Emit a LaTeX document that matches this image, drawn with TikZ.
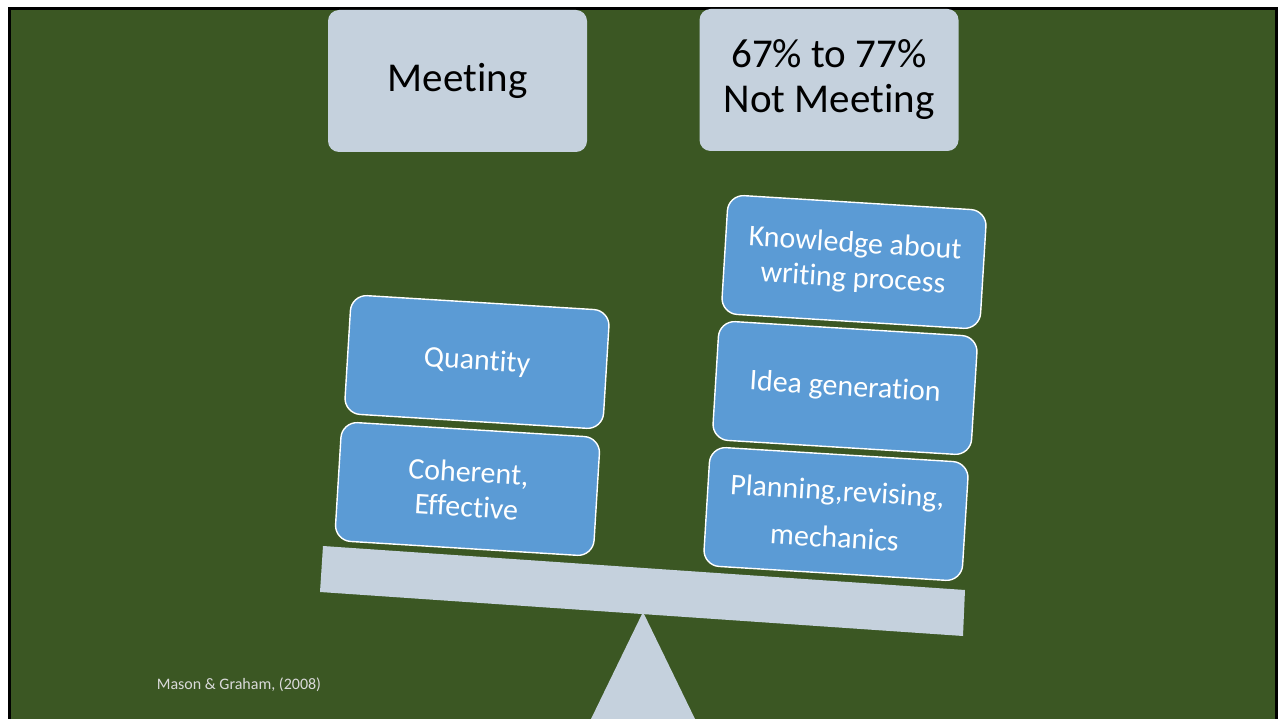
\documentclass[tikz,border=0pt]{standalone}
\usepackage{fontspec}
\setmainfont{Carlito}[RawFeature=-liga]
\definecolor{slidegreen}{HTML}{3B5723}
\definecolor{boxblue}{HTML}{5B9BD5}
\definecolor{beamgray}{HTML}{C5D1DD}
\definecolor{citegray}{HTML}{DADADA}
\tikzset{
  headbox/.style={fill=beamgray, rounded corners=11pt, minimum width=259pt,
    minimum height=142pt, inner sep=0pt, align=center,
    font=\fontsize{41}{45}\selectfont, text=black},
  weightbox/.style={draw=white, line width=1.4pt, fill=boxblue,
    rounded corners=16pt, minimum width=259pt, minimum height=119pt,
    inner sep=0pt, align=center, rotate=-3.5, text=white,
    font=\fontsize{30}{35}\selectfont},
}
\begin{document}
\begin{tikzpicture}[x=1pt,y=-1pt]
  \useasboundingbox (0,0) rectangle (1278,719);
  % page, frame and slide background
  \fill[white] (0,0) rectangle (1278,719);
  \fill[black] (8,7) rectangle (1278,719);
  \fill[slidegreen] (11,10) rectangle (1275,719);

  % headings
  \node[headbox] (meeting) at (457.5,81) {Meeting};
  \node[headbox] (notmeeting) at (829,80) {67\% to 77\%\\Not Meeting};

  % fulcrum and beam
  \fill[beamgray] (643,612) -- (695,719) -- (591,719) -- cycle;
  \fill[beamgray] (323,546) -- (965,590) -- (963,636) -- (320,592) -- cycle;

  % weights on the left
  \node[weightbox] (quantity) at (477,362) {Quantity};
  \node[weightbox] (coherent) at (467.5,489) {Coherent,\\Effective};

  % weights on the right
  \node[weightbox] (knowledge) at (854,262) {Knowledge about\\writing process};
  \node[weightbox] (idea) at (845,388) {Idea generation};
  \node[weightbox] (planning) at (836,514) {Planning,revising,\\[12pt]mechanics};

  % citation
  \node[font=\fontsize{16}{19}\selectfont, text=citegray] (cite) at (239,685)
    {Mason \& Graham, (2008)};
\end{tikzpicture}
\end{document}
